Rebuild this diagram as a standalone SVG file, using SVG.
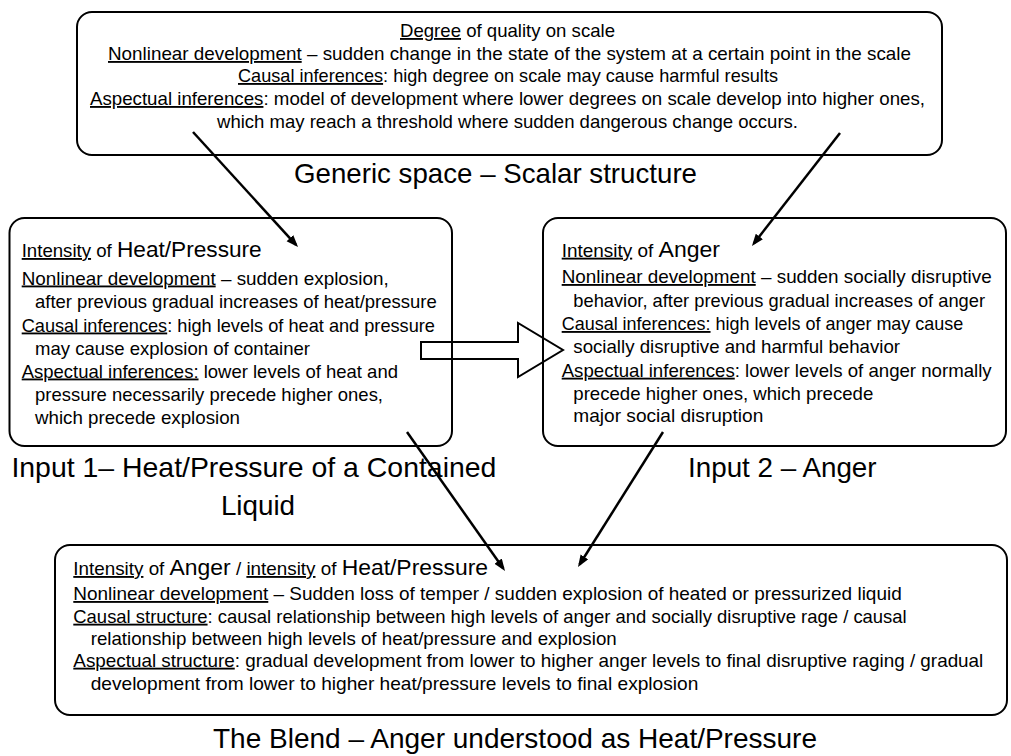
<svg xmlns="http://www.w3.org/2000/svg" width="1011" height="756" viewBox="0 0 1011 756">
  <style>
    .t { font-family: "Liberation Sans", Arial, sans-serif; font-size: 18.5px; fill: #000; }
    .big { font-size: 22.5px; }
    .title { font-family: "Liberation Sans", Arial, sans-serif; font-size: 27.8px; fill: #000; }
    .u { text-decoration: underline; }
    .box { fill: #fff; stroke: #000; stroke-width: 2; }
    .conn { stroke: #000; stroke-width: 2.5; fill: none; }
    .block { stroke: #000; stroke-width: 2; fill: none; stroke-linejoin: miter; }
  </style>
  <defs>
    <marker id="head" markerUnits="userSpaceOnUse" markerWidth="13" markerHeight="10" refX="9" refY="4.5" orient="auto">
      <path d="M0,0 L12,4.5 L0,9 Z" fill="#000"/>
    </marker>
  </defs>

  <rect width="1011" height="756" fill="#fff"/>

  <!-- Generic space -->
  <g id="generic-space">
    <rect class="box" x="77" y="12" width="865" height="143" rx="15"/>
    <text class="t" x="400" y="37" textLength="215" lengthAdjust="spacingAndGlyphs"><tspan class="u">Degree</tspan> of quality on scale</text>
    <text class="t" x="108" y="60" textLength="803" lengthAdjust="spacingAndGlyphs"><tspan class="u">Nonlinear development</tspan> – sudden change in the state of the system at a certain point in the scale</text>
    <text class="t" x="238" y="82" textLength="540" lengthAdjust="spacingAndGlyphs"><tspan class="u">Causal inferences</tspan>: high degree on scale may cause harmful results</text>
    <text class="t" x="90" y="105" textLength="835" lengthAdjust="spacingAndGlyphs"><tspan class="u">Aspectual inferences</tspan>: model of development where lower degrees on scale develop into higher ones,</text>
    <text class="t" x="217" y="128" textLength="581" lengthAdjust="spacingAndGlyphs">which may reach a threshold where sudden dangerous change occurs.</text>
    <text class="title" x="294" y="183" textLength="403" lengthAdjust="spacingAndGlyphs">Generic space – Scalar structure</text>
  </g>

  <!-- Input 1 -->
  <g id="input-1">
    <rect class="box" x="9.5" y="218" width="442.5" height="228" rx="15"/>
    <text class="t" x="21.7" y="257" textLength="240" lengthAdjust="spacingAndGlyphs"><tspan class="u">Intensity</tspan> of <tspan class="big">Heat/Pressure</tspan></text>
    <text class="t" x="21.7" y="284.5" textLength="367" lengthAdjust="spacingAndGlyphs"><tspan class="u">Nonlinear development</tspan> – sudden explosion,</text>
    <text class="t" x="35" y="308" textLength="401.7" lengthAdjust="spacingAndGlyphs">after previous gradual increases of heat/pressure</text>
    <text class="t" x="21.7" y="331.5" textLength="413.3" lengthAdjust="spacingAndGlyphs"><tspan class="u">Causal inferences</tspan>: high levels of heat and pressure</text>
    <text class="t" x="35" y="355" textLength="275" lengthAdjust="spacingAndGlyphs">may cause explosion of container</text>
    <text class="t" x="21.7" y="377.5" textLength="376.3" lengthAdjust="spacingAndGlyphs"><tspan class="u">Aspectual inferences:</tspan> lower levels of heat and</text>
    <text class="t" x="35" y="401" textLength="348" lengthAdjust="spacingAndGlyphs">pressure necessarily precede higher ones,</text>
    <text class="t" x="35" y="423.5" textLength="205" lengthAdjust="spacingAndGlyphs">which precede explosion</text>
    <text class="title" x="11.4" y="477" textLength="485" lengthAdjust="spacingAndGlyphs">Input 1– Heat/Pressure of a Contained</text>
    <text class="title" x="258" y="515" text-anchor="middle">Liquid</text>
  </g>

  <!-- Input 2 -->
  <g id="input-2">
    <rect class="box" x="543" y="218" width="463" height="228" rx="15"/>
    <text class="t" x="561.7" y="256.7" textLength="158.3" lengthAdjust="spacingAndGlyphs"><tspan class="u">Intensity</tspan> of <tspan class="big">Anger</tspan></text>
    <text class="t" x="561.7" y="283" textLength="430" lengthAdjust="spacingAndGlyphs"><tspan class="u">Nonlinear development</tspan> – sudden socially disruptive</text>
    <text class="t" x="573.3" y="307.3" textLength="411.7" lengthAdjust="spacingAndGlyphs">behavior, after previous gradual increases of anger</text>
    <text class="t" x="561.7" y="330" textLength="401.6" lengthAdjust="spacingAndGlyphs"><tspan class="u">Causal inferences:</tspan> high levels of anger may cause</text>
    <text class="t" x="573.3" y="353.3" textLength="326.7" lengthAdjust="spacingAndGlyphs">socially disruptive and harmful behavior</text>
    <text class="t" x="561.7" y="376.7" textLength="430" lengthAdjust="spacingAndGlyphs"><tspan class="u">Aspectual inferences</tspan>: lower levels of anger normally</text>
    <text class="t" x="573.3" y="400" textLength="300" lengthAdjust="spacingAndGlyphs">precede higher ones, which precede</text>
    <text class="t" x="573.3" y="421.7" textLength="190" lengthAdjust="spacingAndGlyphs">major social disruption</text>
    <text class="title" x="688" y="477">Input 2 – Anger</text>
  </g>

  <!-- Blend -->
  <g id="blend">
    <rect class="box" x="55" y="545" width="952" height="170" rx="15"/>
    <text class="t" x="73.3" y="575" textLength="414.7" lengthAdjust="spacingAndGlyphs"><tspan class="u">Intensity</tspan> of <tspan class="big">Anger</tspan> / <tspan class="u">intensity</tspan> of <tspan class="big">Heat/Pressure</tspan></text>
    <text class="t" x="73.3" y="600" textLength="828.4" lengthAdjust="spacingAndGlyphs"><tspan class="u">Nonlinear development</tspan> – Sudden loss of temper / sudden explosion of heated or pressurized liquid</text>
    <text class="t" x="73.3" y="622.7" textLength="833.4" lengthAdjust="spacingAndGlyphs"><tspan class="u">Causal structure</tspan>: causal relationship between high levels of anger and socially disruptive rage / causal</text>
    <text class="t" x="90.7" y="645" textLength="526" lengthAdjust="spacingAndGlyphs">relationship between high levels of heat/pressure and explosion</text>
    <text class="t" x="73.3" y="666.7" textLength="910" lengthAdjust="spacingAndGlyphs"><tspan class="u">Aspectual structure</tspan>: gradual development from lower to higher anger levels to final disruptive raging / gradual</text>
    <text class="t" x="90.7" y="690" textLength="607.6" lengthAdjust="spacingAndGlyphs">development from lower to higher heat/pressure levels to final explosion</text>
    <text class="title" x="213" y="748" textLength="604" lengthAdjust="spacingAndGlyphs">The Blend – Anger understood as Heat/Pressure</text>
  </g>

  <!-- Connectors -->
  <g id="connectors">
    <line class="conn" x1="193" y1="132" x2="296" y2="244.8" marker-end="url(#head)"/>
    <line class="conn" x1="840" y1="133" x2="753.8" y2="243.6" marker-end="url(#head)"/>
    <line class="conn" x1="407" y1="432" x2="503.3" y2="568.5" marker-end="url(#head)"/>
    <line class="conn" x1="663" y1="432" x2="579.6" y2="564.5" marker-end="url(#head)"/>
    <path class="block" d="M421,342 L518,342 L518,323 L563,350 L518,377 L518,359 L421,359 Z"/>
  </g>
</svg>
